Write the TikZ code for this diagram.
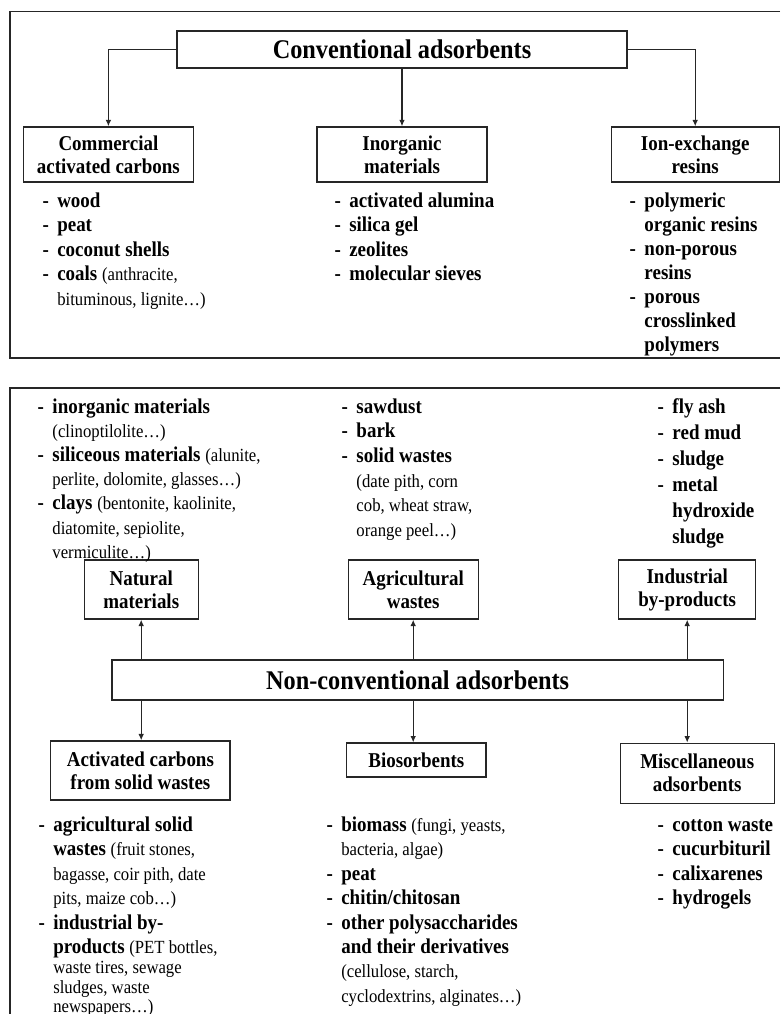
\documentclass[tikz,border=0pt]{standalone}
\usepackage{fontspec}
\setmainfont{Liberation Serif}[FakeStretch=0.9]
\usetikzlibrary{arrows.meta}

\newcommand{\detail}[1]{{\mdseries\fontsize{13.2}{15}\selectfont #1}}

\tikzset{
    >={Latex[length=4.5pt,width=4pt]},
    catbox/.style={draw, line width=0.95pt, align=center, inner sep=2pt,
        font=\bfseries\fontsize{15}{16.4}\selectfont},
    headbox/.style={catbox, font=\bfseries\fontsize{19.2}{22}\selectfont},
    itemlist/.style={anchor=base west, inner sep=0pt,
        font=\bfseries\fontsize{15}{#1}\selectfont},
    itemlist/.default=17.4pt
}

\begin{document}
\begin{tikzpicture}[line width=0.75pt, draw=black!85]
    \useasboundingbox (0,0) rectangle (19.5,-25.35);

    % conventional adsorbents
    \draw [line width=0.95pt] (19.5,-0.28) -- (0.25,-0.28) -- (0.25,-8.95) -- (19.5,-8.95);

    \node [headbox, minimum width=11.25cm, minimum height=0.925cm] (conv) at (10.05,-1.24) {Conventional adsorbents};

    \node [catbox, minimum width=4.25cm, minimum height=1.375cm] (com) at (2.71,-3.86) {Commercial\\activated carbons};
    \node [catbox, minimum width=4.25cm, minimum height=1.375cm] (ino) at (10.05,-3.86) {Inorganic\\materials};
    \node [catbox, minimum width=4.2cm, minimum height=1.375cm] (ion) at (17.38,-3.86) {Ion-exchange\\resins};

    \draw [->] (conv.west) -| (com.north);
    \draw [->] (conv.south) -- (ino.north);
    \draw [->] (conv.east) -| (ion.north);

    \node [itemlist] (comlist) at (1.05,-5.18) {\begin{tabular}[t]{@{}l@{\hspace{6pt}}l@{}}
        - & wood\\
        - & peat\\
        - & coconut shells\\
        - & coals \detail{(anthracite,}\\
          & \detail{bituminous, lignite…)}
    \end{tabular}};
    \node [itemlist] (inolist) at (8.35,-5.18) {\begin{tabular}[t]{@{}l@{\hspace{6pt}}l@{}}
        - & activated alumina\\
        - & silica gel\\
        - & zeolites\\
        - & molecular sieves
    \end{tabular}};
    \node [itemlist=17.1pt] (ionlist) at (15.73,-5.18) {\begin{tabular}[t]{@{}l@{\hspace{6pt}}l@{}}
        - & polymeric\\
          & organic resins\\
        - & non-porous\\
          & resins\\
        - & porous\\
          & crosslinked\\
          & polymers
    \end{tabular}};

    % non-conventional adsorbents
    \draw [line width=0.95pt] (19.5,-9.7) -- (0.25,-9.7) -- (0.25,-25.35);

    \node [headbox, minimum width=15.28cm, minimum height=1cm] (nonconv) at (10.44,-17.0) {Non-conventional adsorbents};

    \node [catbox, minimum width=2.85cm, minimum height=1.475cm] (nat) at (3.53,-14.74) {Natural\\materials};
    \node [catbox, minimum width=3.25cm, minimum height=1.475cm] (agr) at (10.33,-14.74) {Agricultural\\wastes};
    \node [catbox, minimum width=3.43cm, minimum height=1.475cm] (ind) at (17.18,-14.74) {Industrial\\by-products};

    \node [catbox, minimum width=4.48cm, minimum height=1.475cm] (act) at (3.51,-19.26) {Activated carbons\\from solid wastes};
    \node [catbox, minimum width=3.48cm, minimum height=0.85cm] (bio) at (10.41,-19.0) {Biosorbents};
    \node [catbox, minimum width=3.85cm, minimum height=1.5cm] (misc) at (17.43,-19.33) {Miscellaneous\\adsorbents};

    \draw [->] (nonconv.north -| nat) -- (nat.south);
    \draw [->] (nonconv.north -| agr) -- (agr.south);
    \draw [->] (nonconv.north -| ind) -- (ind.south);
    \draw [->] (nonconv.south -| nat) -- (act.north -| nat);
    \draw [->] (nonconv.south -| agr) -- (bio.north -| agr);
    \draw [->] (nonconv.south -| ind) -- (misc.north -| ind);

    \node [itemlist=17.2pt] (natlist) at (0.93,-10.33) {\begin{tabular}[t]{@{}l@{\hspace{6pt}}l@{}}
        - & inorganic materials\\
          & \detail{(clinoptilolite…)}\\
        - & siliceous materials \detail{(alunite,}\\
          & \detail{perlite, dolomite, glasses…)}\\
        - & clays \detail{(bentonite, kaolinite,}\\
          & \detail{diatomite, sepiolite,}\\
          & \detail{vermiculite…)}
    \end{tabular}};
    \node [itemlist=17.5pt] (agrlist) at (8.53,-10.33) {\begin{tabular}[t]{@{}l@{\hspace{6pt}}l@{}}
        - & sawdust\\
        - & bark\\
        - & solid wastes\\
          & \detail{(date pith, corn}\\
          & \detail{cob, wheat straw,}\\
          & \detail{orange peel…)}
    \end{tabular}};
    \node [itemlist=18.5pt] (indlist) at (16.43,-10.33) {\begin{tabular}[t]{@{}l@{\hspace{6pt}}l@{}}
        - & fly ash\\
        - & red mud\\
        - & sludge\\
        - & metal\\
          & hydroxide\\
          & sludge
    \end{tabular}};

    \node [itemlist] (actlist) at (0.95,-20.78) {\begin{tabular}[t]{@{}l@{\hspace{6pt}}l@{}}
        - & agricultural solid\\
          & wastes \detail{(fruit stones,}\\
          & \detail{bagasse, coir pith, date}\\
          & \detail{pits, maize cob…)}\\
        - & industrial by-\\
          & products \detail{(PET bottles,}\\[-3.3pt]
          & \detail{waste tires, sewage}\\[-3.3pt]
          & \detail{sludges, waste}\\[-3.3pt]
          & \detail{newspapers…)}
    \end{tabular}};
    \node [itemlist] (biolist) at (8.15,-20.78) {\begin{tabular}[t]{@{}l@{\hspace{6pt}}l@{}}
        - & biomass \detail{(fungi, yeasts,}\\
          & \detail{bacteria, algae)}\\
        - & peat\\
        - & chitin/chitosan\\
        - & other polysaccharides\\
          & and their derivatives\\
          & \detail{(cellulose, starch,}\\
          & \detail{cyclodextrins, alginates…)}
    \end{tabular}};
    \node [itemlist] (misclist) at (16.43,-20.78) {\begin{tabular}[t]{@{}l@{\hspace{6pt}}l@{}}
        - & cotton waste\\
        - & cucurbituril\\
        - & calixarenes\\
        - & hydrogels
    \end{tabular}};
\end{tikzpicture}
\end{document}
